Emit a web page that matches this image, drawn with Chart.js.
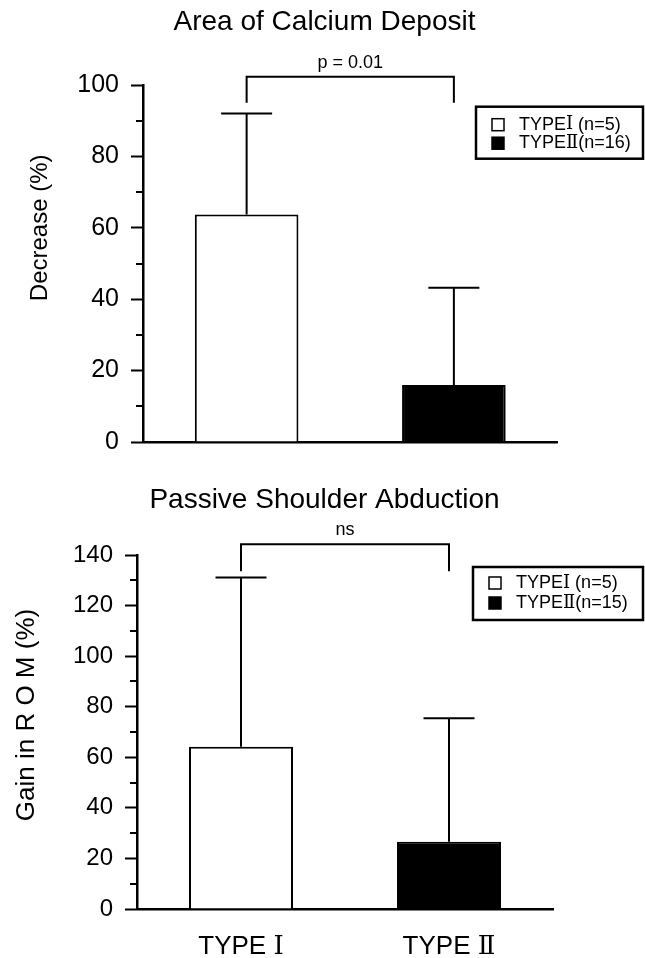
<!DOCTYPE html>
<html><head><meta charset="utf-8">
<script src="https://cdn.jsdelivr.net/npm/chart.js@4.4.0/dist/chart.umd.min.js"></script>
<style>
html,body{margin:0;padding:0;background:#fff;}
#wrap{position:relative;width:645px;height:958px;background:#fff;}
.box{position:absolute;left:0;width:645px;height:479px;}
</style></head><body>
<div id="wrap">
<div class="box" style="top:0"><canvas id="c1"></canvas></div>
<div class="box" style="top:479px"><canvas id="c2"></canvas></div>
</div>
<script>
// ---- data ----
const categories = ['TYPE Ⅰ', 'TYPE Ⅱ'];
const legendNames = ['TYPEⅠ ', 'TYPEⅡ'];
const calciumMean = [63.7, 16.0];
const calciumSD = [28.3, 27.2];
const calciumN = [5, 16];
const calciumTicks = [0, 20, 40, 60, 80, 100];
const romMean = [64.2, 26.6];
const romSD = [66.9, 48.8];
const romN = [5, 15];
const romTicks = [0, 20, 40, 60, 80, 100, 120, 140];
const barColors = ['#ffffff', '#000000'];

const FONT = '"Liberation Sans", Arial, Helvetica, sans-serif';
const NUMFONT = '"DejaVu Serif", "Liberation Serif", "Noto Sans CJK JP", serif';
const ROMAN = /^[\u2160-\u216F]$/;

// draws text whose Roman numerals use a serif font (as in the original figure)
function mixedText(ctx, str, x, y, size, align) {
  const parts = str.split(/([\u2160-\u216F])/).filter(s => s.length);
  const fonts = parts.map(p => size + 'px ' + (ROMAN.test(p) ? NUMFONT : FONT));
  const widths = parts.map((p, i) => { ctx.font = fonts[i]; return ctx.measureText(p).width; });
  const total = widths.reduce((a, b) => a + b, 0);
  let cx = align === 'center' ? x - total / 2 : (align === 'right' ? x - total : x);
  ctx.textAlign = 'left';
  parts.forEach((p, i) => {
    ctx.font = fonts[i];
    ctx.fillText(p, cx, y);
    cx += widths[i];
  });
}

const decor = {
  id: 'decor',
  afterDatasetsDraw(chart, args, o) {
    const ctx = chart.ctx, y = chart.scales.y, xs = chart.scales.x, ca = chart.chartArea;
    const meta = chart.getDatasetMeta(0);
    const ds = chart.data.datasets[0];
    ctx.save();
    ctx.strokeStyle = '#000';
    ctx.fillStyle = '#000';
    ctx.lineWidth = 2;
    // chart title
    ctx.font = o.title.size + 'px ' + FONT;
    ctx.textAlign = 'center';
    ctx.textBaseline = 'middle';
    ctx.fillText(o.title.text, chart.width / 2 + o.title.dx, ca.top - o.title.above);
    // error bars (upper only)
    meta.data.forEach((bar, i) => {
      const top = y.getPixelForValue(ds.data[i] + o.sd[i]);
      ctx.beginPath();
      ctx.moveTo(bar.x, bar.y);
      ctx.lineTo(bar.x, top);
      ctx.moveTo(bar.x - o.cap / 2, top);
      ctx.lineTo(bar.x + o.cap / 2, top);
      ctx.stroke();
    });
    // significance bracket
    const by = y.getPixelForValue(o.bracket.level);
    const ly = y.getPixelForValue(o.bracket.leg);
    const x0 = meta.data[0].x, x1 = meta.data[1].x;
    ctx.beginPath();
    ctx.moveTo(x0, ly); ctx.lineTo(x0, by); ctx.lineTo(x1, by); ctx.lineTo(x1, ly);
    ctx.stroke();
    ctx.font = '18px ' + FONT;
    ctx.textAlign = 'center';
    ctx.textBaseline = 'middle';
    ctx.fillText(o.bracket.text, (x0 + x1) / 2, by - 14);
    // minor ticks
    y.ticks.forEach(t => {
      if (!o.major.includes(t.value)) {
        const py = Math.round(y.getPixelForValue(t.value));
        ctx.beginPath();
        ctx.moveTo(ca.left - 7, py);
        ctx.lineTo(ca.left, py);
        ctx.stroke();
      }
    });
    // y title
    ctx.save();
    ctx.translate(o.yTitle.x, ca.top + o.yTitle.frac * (ca.bottom - ca.top));
    ctx.rotate(-Math.PI / 2);
    ctx.font = o.yTitle.size + 'px ' + FONT;
    ctx.textAlign = 'center';
    ctx.textBaseline = 'middle';
    ctx.fillText(o.yTitle.text, 0, 0);
    ctx.restore();
    // category labels under the axis
    if (o.xLabels) {
      ctx.fillStyle = '#000';
      ctx.textBaseline = 'alphabetic';
      chart.data.labels.forEach((lab, i) => {
        mixedText(ctx, lab, xs.getPixelForTick(i), ca.bottom + o.xLabels.below, o.xLabels.size, 'center');
      });
    }
    // legend
    const L = o.legend;
    const lx = ca.right + L.dx, ly0 = ca.top + L.dy;
    ctx.lineWidth = 2.5;
    ctx.strokeRect(lx, ly0, L.w, L.h);
    ctx.textBaseline = 'middle';
    ctx.lineWidth = 1.5;
    o.labels.forEach((lab, i) => {
      const cy = ly0 + L.rows[i];
      ctx.fillStyle = ds.backgroundColor[i];
      ctx.fillRect(lx + 16, cy - 6, 12, 12);
      ctx.strokeRect(lx + 16, cy - 6, 12, 12);
      ctx.fillStyle = '#000';
      mixedText(ctx, lab, lx + 43, cy, 18, 'left');
    });
    ctx.restore();
  }
};

function makeChart(id, cfg) {
  const major = cfg.ticks;
  return new Chart(document.getElementById(id), {
    type: 'bar',
    data: {
      labels: categories,
      datasets: [{
        data: cfg.mean,
        backgroundColor: barColors,
        borderColor: '#000',
        borderWidth: 2,
        categoryPercentage: 1,
        barPercentage: 0.5
      }]
    },
    options: {
      responsive: true,
      maintainAspectRatio: false,
      animation: false,
      events: [],
      layout: { padding: { left: 0, right: cfg.padRight, top: cfg.padTop, bottom: 0 } },
      plugins: {
        legend: { display: false },
        tooltip: { enabled: false },
        title: { display: false },
        decor: {
          title: cfg.title,
          sd: cfg.sd,
          cap: 51,
          major: major,
          bracket: cfg.bracket,
          yTitle: cfg.yTitle,
          xLabels: cfg.xLabels,
          legend: cfg.legend,
          labels: legendNames.map((n, i) => n + '(n=' + cfg.n[i] + ')')
        }
      },
      scales: {
        x: {
          type: 'category',
          offset: true,
          afterFit: s => { s.height = cfg.xHeight; },
          grid: { display: false },
          border: { display: true, color: '#000', width: 2.5 },
          ticks: { display: false }
        },
        y: {
          min: 0,
          max: major[major.length - 1],
          afterFit: s => { s.width = cfg.yWidth; },
          grid: {
            display: true,
            drawOnChartArea: false,
            drawTicks: true,
            tickLength: 12,
            tickWidth: 2,
            tickColor: c => (major.includes(c.tick.value) ? '#000' : 'rgba(0,0,0,0)')
          },
          border: { display: true, color: '#000', width: 2.5 },
          ticks: {
            stepSize: 10,
            autoSkip: false,
            color: '#000',
            padding: 12,
            font: { family: FONT, size: cfg.tickSize },
            callback: v => (major.includes(v) ? String(v) : '')
          }
        }
      }
    },
    plugins: [decor]
  });
}

makeChart('c1', {
  title: { text: 'Area of Calcium Deposit', size: 28, above: 63, dx: 2 },
  padTop: 85,
  mean: calciumMean, sd: calciumSD, n: calciumN, ticks: calciumTicks,
  padRight: 87.5, yWidth: 143, xHeight: 37, tickSize: 25,
  bracket: { text: 'p = 0.01', level: 102.3, leg: 95 },
  yTitle: { text: 'Decrease (%)', x: 40, frac: 0.4, size: 24 },
  xLabels: null,
  legend: { dx: -81.5, dy: 21.7, w: 167, h: 52, rows: [18, 36.5] }
});

makeChart('c2', {
  title: { text: 'Passive Shoulder Abduction', size: 28, above: 55, dx: 2 },
  padTop: 76,
  mean: romMean, sd: romSD, n: romN, ticks: romTicks,
  padRight: 92, yWidth: 137, xHeight: 49, tickSize: 24,
  bracket: { text: 'ns', level: 144.3, leg: 133.6 },
  yTitle: { text: 'Gain in R O M (%)', x: 27, frac: 0.452, size: 26 },
  xLabels: { size: 26, below: 45 },
  legend: { dx: -80, dy: 12, w: 170, h: 53, rows: [16, 36] }
});
</script>
</body></html>
